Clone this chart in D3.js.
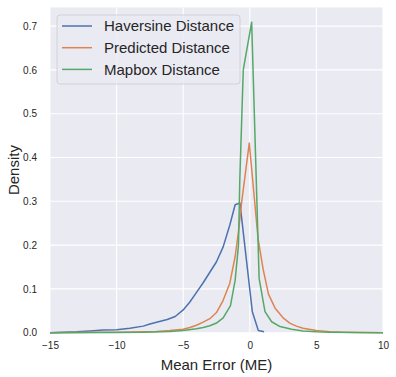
<!DOCTYPE html>
<html>
<head>
<meta charset="utf-8">
<script src="https://cdn.jsdelivr.net/npm/d3@7"></script>
<style>
  body { margin: 0; background: #fff; }
  text { font-family: "Liberation Sans", Arial, sans-serif; fill: #262626; }
</style>
</head>
<body>
<div id="chart"></div>
<script>
var seriesNames = ["Haversine Distance", "Predicted Distance", "Mapbox Distance"];
var seriesColors = ["#4c72b0", "#dd8452", "#55a868"];

// (mean error, density)
var haversine = [
  [-15, 0.000], [-14, 0.001], [-13, 0.002], [-12, 0.004], [-11, 0.006], [-10, 0.007],
  [-9, 0.010], [-8, 0.015], [-7.5, 0.020], [-7, 0.024], [-6.2, 0.030], [-5.6, 0.037],
  [-5, 0.052], [-4.5, 0.070], [-4, 0.092], [-3.5, 0.114], [-3, 0.138], [-2.5, 0.162],
  [-2, 0.196], [-1.5, 0.246], [-1.1, 0.292], [-0.74, 0.296], [0.19, 0.048],
  [0.64, 0.005], [1.07, 0.002]
];
var predicted = [
  [-15, 0.000], [-12, 0.001], [-10, 0.001], [-8, 0.002], [-7, 0.003], [-6, 0.005],
  [-5, 0.008], [-4.5, 0.012], [-4, 0.017], [-3.5, 0.024], [-3, 0.032], [-2.5, 0.046],
  [-2, 0.074], [-1.5, 0.113], [-1.1, 0.174], [-0.86, 0.228], [-0.62, 0.296],
  [-0.04, 0.433], [0.62, 0.215], [1.0, 0.145], [1.4, 0.088], [1.9, 0.056], [2.5, 0.034],
  [3.0, 0.022], [3.5, 0.015], [4, 0.010], [5, 0.005], [6, 0.002], [7, 0.001],
  [8, 0.0005], [10, 0.000]
];
var mapbox = [
  [-15, 0.000], [-10, 0.0005], [-8, 0.001], [-6, 0.003], [-5, 0.005], [-4, 0.009],
  [-3.5, 0.012], [-3, 0.016], [-2.5, 0.022], [-2, 0.034], [-1.45, 0.062], [-1.1, 0.12],
  [-0.85, 0.20], [-0.75, 0.35], [-0.49, 0.600], [0.14, 0.709], [0.7, 0.124],
  [1.14, 0.048], [1.64, 0.025], [2.27, 0.014], [3.14, 0.008], [4, 0.004], [5, 0.002],
  [6, 0.001], [8, 0.0003], [10, 0.000]
];
var seriesData = [haversine, predicted, mapbox];

var xTicks = [-15, -10, -5, 0, 5, 10];
var yTicks = [0.0, 0.1, 0.2, 0.3, 0.4, 0.5, 0.6, 0.7];

var width = 396, height = 377;
var margin = {left: 50, right: 13, top: 7.5, bottom: 44.3};
var plotW = width - margin.left - margin.right;
var plotH = height - margin.top - margin.bottom;

var svg = d3.select("#chart").append("svg")
  .attr("width", width)
  .attr("height", height);

var xScale = d3.scaleLinear().domain([-15, 10]).range([0, plotW]);
var yScale = d3.scaleLinear().domain([0, 0.7425]).range([plotH, 0]);

var g = svg.append("g")
  .attr("transform", "translate(" + margin.left + "," + margin.top + ")");

g.append("rect")
  .attr("width", plotW)
  .attr("height", plotH)
  .attr("fill", "#eaeaf2");

// grid
g.selectAll(".xgrid").data(xTicks).enter().append("line")
  .attr("x1", function(d){ return xScale(d); })
  .attr("x2", function(d){ return xScale(d); })
  .attr("y1", 0).attr("y2", plotH)
  .attr("stroke", "#fff").attr("stroke-width", 1.1);
g.selectAll(".ygrid").data(yTicks).enter().append("line")
  .attr("x1", 0).attr("x2", plotW)
  .attr("y1", function(d){ return yScale(d); })
  .attr("y2", function(d){ return yScale(d); })
  .attr("stroke", "#fff").attr("stroke-width", 1.1);

// axes (labels only, seaborn darkgrid has no spines/ticks)
var xAxis = d3.axisBottom(xScale).tickValues(xTicks).tickSize(0).tickPadding(9)
  .tickFormat(function(d){ return d < 0 ? "\u2212" + Math.abs(d) : d; });
var yAxis = d3.axisLeft(yScale).tickValues(yTicks).tickSize(0).tickPadding(13)
  .tickFormat(d3.format(".1f"));

var gx = g.append("g").attr("transform", "translate(0," + plotH + ")").call(xAxis);
var gy = g.append("g").call(yAxis);
[gx, gy].forEach(function(a){
  a.select(".domain").remove();
  a.selectAll("text").attr("font-size", 10).attr("fill", "#262626")
    .attr("font-family", "Liberation Sans, Arial, sans-serif");
});

// lines
var line = d3.line()
  .x(function(d){ return xScale(d[0]); })
  .y(function(d){ return yScale(d[1]); });

seriesData.forEach(function(data, i){
  g.append("path")
    .datum(data)
    .attr("fill", "none")
    .attr("stroke", seriesColors[i])
    .attr("stroke-width", 1.5)
    .attr("stroke-linejoin", "round")
    .attr("d", line);
});

// axis titles
svg.append("text")
  .attr("x", margin.left + plotW / 2)
  .attr("y", 370)
  .attr("text-anchor", "middle")
  .attr("font-size", 15)
  .text("Mean Error (ME)");
svg.append("text")
  .attr("transform", "translate(19," + (margin.top + plotH / 2) + ") rotate(-90)")
  .attr("text-anchor", "middle")
  .attr("font-size", 15)
  .text("Density");

// legend
var legend = svg.append("g").attr("transform", "translate(57,15)");
legend.append("rect")
  .attr("width", 183).attr("height", 69)
  .attr("rx", 3)
  .attr("fill", "#eaeaf2").attr("fill-opacity", 0.8)
  .attr("stroke", "#cccccc").attr("stroke-width", 0.8);
seriesNames.forEach(function(name, i){
  var yy = 11 + i * 21.7;
  legend.append("line")
    .attr("x1", 5).attr("x2", 35)
    .attr("y1", yy).attr("y2", yy)
    .attr("stroke", seriesColors[i]).attr("stroke-width", 1.5);
  legend.append("text")
    .attr("x", 47).attr("y", yy + 5.3)
    .attr("font-size", 15)
    .text(name);
});
</script>
</body>
</html>
